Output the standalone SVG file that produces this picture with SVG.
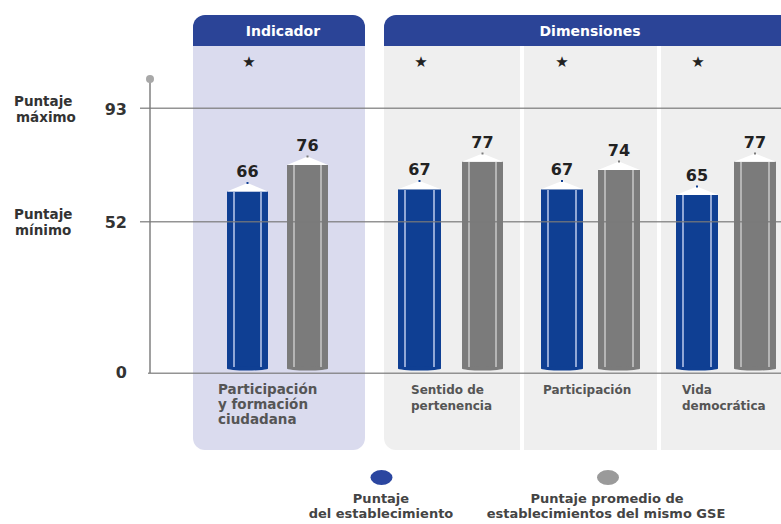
<svg xmlns="http://www.w3.org/2000/svg" width="781" height="524" viewBox="0 0 781 524">
<defs>
<style>
.hdr{fill:#2b4497}
.ht{font-family:"DejaVu Sans",sans-serif;font-weight:bold;font-size:14px;fill:#fff;text-anchor:middle}
.ax{font-family:"DejaVu Sans",sans-serif;font-weight:bold;font-size:13.5px;fill:#333}
.num{font-family:"DejaVu Sans",sans-serif;font-weight:bold;font-size:16px;fill:#333;text-anchor:end}
.val{font-family:"DejaVu Sans",sans-serif;font-weight:bold;font-size:16px;fill:#222;text-anchor:middle}
.lbl{font-family:"DejaVu Sans",sans-serif;font-weight:bold;font-size:13.5px;fill:#555}
.lbls{font-family:"DejaVu Sans",sans-serif;font-weight:bold;font-size:12px;fill:#555}
.star{font-family:"DejaVu Sans",sans-serif;font-size:15px;fill:#222;text-anchor:middle}
.leg{font-family:"DejaVu Sans",sans-serif;font-weight:bold;font-size:13px;fill:#444;text-anchor:middle}
.grid{stroke:#7a7a7a;stroke-width:1.5;opacity:0.8}
.bb{fill:#0f3f93}
.bs{stroke:#c9d5f2;stroke-width:1.4}
.gb{fill:#7b7b7b}
.gs{stroke:#cfcfcf;stroke-width:1.4}
.cap{fill:#fff}
</style>
</defs>
<rect width="781" height="524" fill="#fff"/>

<!-- panels -->
<g id="panel-indicador">
<path d="M193,46 H365 V438 a12,12 0 0 1 -12,12 H205 a12,12 0 0 1 -12,-12 Z" fill="#dadbee"/>
<path class="hdr" d="M193,46 V27 a12,12 0 0 1 12,-12 H353 a12,12 0 0 1 12,12 V46 Z"/>
<text class="ht" x="283" y="36">Indicador</text>
<text class="star" x="249" y="67">★</text>
</g>
<g id="panel-dimensiones">
<path d="M384,46 H781 V450 H396 a12,12 0 0 1 -12,-12 Z" fill="#efefef"/>
<rect x="520" y="46" width="4" height="404" fill="#fff"/>
<rect x="657" y="46" width="4" height="404" fill="#fff"/>
<path class="hdr" d="M384,46 V27 a12,12 0 0 1 12,-12 H781 V46 Z"/>
<text class="ht" x="590" y="36">Dimensiones</text>
<text class="star" x="421" y="67">★</text>
<text class="star" x="562" y="67">★</text>
<text class="star" x="698" y="67">★</text>
</g>

<!-- axis -->
<g id="axis">
<line x1="150" y1="80" x2="150" y2="373" stroke="#a0a0a0" stroke-width="2"/>
<circle cx="150" cy="79" r="4" fill="#a8a8a8"/>
<text class="ax" x="14" y="106">Puntaje</text>
<text class="ax" x="16" y="122">máximo</text>
<text class="ax" x="14" y="219">Puntaje</text>
<text class="ax" x="15" y="235">mínimo</text>
<text class="num" x="127" y="115">93</text>
<text class="num" x="127" y="228">52</text>
<text class="num" x="127" y="378">0</text>
</g>

<!-- bars -->
<g id="bar-ind-est">
<rect class="bb" x="227" y="191.5" width="41" height="177"/>
<ellipse class="bb" cx="247.5" cy="368.5" rx="20.5" ry="2"/>
<line class="bs" x1="234" y1="192" x2="234" y2="367"/><line class="bs" x1="261" y1="192" x2="261" y2="367"/>
<polygon class="cap" points="227,191.5 247.5,183 268,191.5"/>
<rect class="bb" x="246.5" y="182" width="2" height="2"/>
<text class="val" x="247.5" y="177">66</text>
</g>
<g id="bar-ind-gse">
<rect class="gb" x="287" y="165" width="41" height="203.5"/>
<ellipse class="gb" cx="307.5" cy="368.5" rx="20.5" ry="2"/>
<line class="gs" x1="294" y1="165" x2="294" y2="367"/><line class="gs" x1="321" y1="165" x2="321" y2="367"/>
<polygon class="cap" points="287,165 307.5,156.5 328,165"/>
<rect class="gb" x="306.5" y="155.5" width="2" height="2"/>
<text class="val" x="307.5" y="151">76</text>
</g>
<g id="bar-sen-est">
<rect class="bb" x="398" y="189.3" width="43" height="179.2"/>
<ellipse class="bb" cx="419.5" cy="368.5" rx="21.5" ry="2"/>
<line class="bs" x1="405" y1="190" x2="405" y2="367"/><line class="bs" x1="434" y1="190" x2="434" y2="367"/>
<polygon class="cap" points="398,189.3 419.5,181 441,189.3"/>
<rect class="bb" x="418.5" y="180" width="2" height="2"/>
<text class="val" x="419.5" y="175">67</text>
</g>
<g id="bar-sen-gse">
<rect class="gb" x="462" y="161.7" width="41" height="206.8"/>
<ellipse class="gb" cx="482.5" cy="368.5" rx="20.5" ry="2"/>
<line class="gs" x1="469" y1="162" x2="469" y2="367"/><line class="gs" x1="496" y1="162" x2="496" y2="367"/>
<polygon class="cap" points="462,161.7 482.5,153.5 503,161.7"/>
<rect class="gb" x="481.5" y="152.5" width="2" height="2"/>
<text class="val" x="482.5" y="148">77</text>
</g>
<g id="bar-par-est">
<rect class="bb" x="541" y="189.3" width="42" height="179.2"/>
<ellipse class="bb" cx="562" cy="368.5" rx="21" ry="2"/>
<line class="bs" x1="548" y1="190" x2="548" y2="367"/><line class="bs" x1="576" y1="190" x2="576" y2="367"/>
<polygon class="cap" points="541,189.3 562,181 583,189.3"/>
<rect class="bb" x="561" y="180" width="2" height="2"/>
<text class="val" x="562" y="175">67</text>
</g>
<g id="bar-par-gse">
<rect class="gb" x="598" y="170" width="42" height="198.5"/>
<ellipse class="gb" cx="619" cy="368.5" rx="21" ry="2"/>
<line class="gs" x1="605" y1="170" x2="605" y2="367"/><line class="gs" x1="633" y1="170" x2="633" y2="367"/>
<polygon class="cap" points="598,170 619,161.5 640,170"/>
<rect class="gb" x="618" y="160.5" width="2" height="2"/>
<text class="val" x="619" y="156">74</text>
</g>
<g id="bar-vid-est">
<rect class="bb" x="676" y="195" width="42" height="173.5"/>
<ellipse class="bb" cx="697" cy="368.5" rx="21" ry="2"/>
<line class="bs" x1="683" y1="195" x2="683" y2="367"/><line class="bs" x1="711" y1="195" x2="711" y2="367"/>
<polygon class="cap" points="676,195 697,186.5 718,195"/>
<rect class="bb" x="696" y="185.5" width="2" height="2"/>
<text class="val" x="697" y="181">65</text>
</g>
<g id="bar-vid-gse">
<rect class="gb" x="734" y="161.7" width="42" height="206.8"/>
<ellipse class="gb" cx="755" cy="368.5" rx="21" ry="2"/>
<line class="gs" x1="741" y1="162" x2="741" y2="367"/><line class="gs" x1="769" y1="162" x2="769" y2="367"/>
<polygon class="cap" points="734,161.7 755,153.5 776,161.7"/>
<rect class="gb" x="754" y="152.5" width="2" height="2"/>
<text class="val" x="755" y="148">77</text>
</g>

<!-- gridlines -->
<g id="connectors">
<line class="grid" x1="140" y1="108.3" x2="781" y2="108.3"/>
<line class="grid" x1="140" y1="221.7" x2="781" y2="221.7"/>
<line class="grid" x1="148" y1="373.3" x2="781" y2="373.3"/>
</g>

<!-- category labels -->
<g id="labels">
<text class="lbl" x="218" y="394">Participación</text>
<text class="lbl" x="218" y="409">y formación</text>
<text class="lbl" x="218" y="424">ciudadana</text>
<text class="lbls" x="411" y="394">Sentido de</text>
<text class="lbls" x="411" y="410">pertenencia</text>
<text class="lbls" x="543" y="394">Participación</text>
<text class="lbls" x="682" y="394">Vida</text>
<text class="lbls" x="682" y="410">democrática</text>
</g>

<!-- legend -->
<g id="legend">
<ellipse cx="381.5" cy="477.5" rx="11" ry="7.5" fill="#2b46a0"/>
<ellipse cx="608" cy="477.5" rx="11" ry="7.5" fill="#9a9a9a"/>
<text class="leg" x="381" y="503">Puntaje</text>
<text class="leg" x="381" y="518">del establecimiento</text>
<text class="leg" x="607" y="503">Puntaje promedio de</text>
<text class="leg" x="606" y="518">establecimientos del mismo GSE</text>
</g>
</svg>
